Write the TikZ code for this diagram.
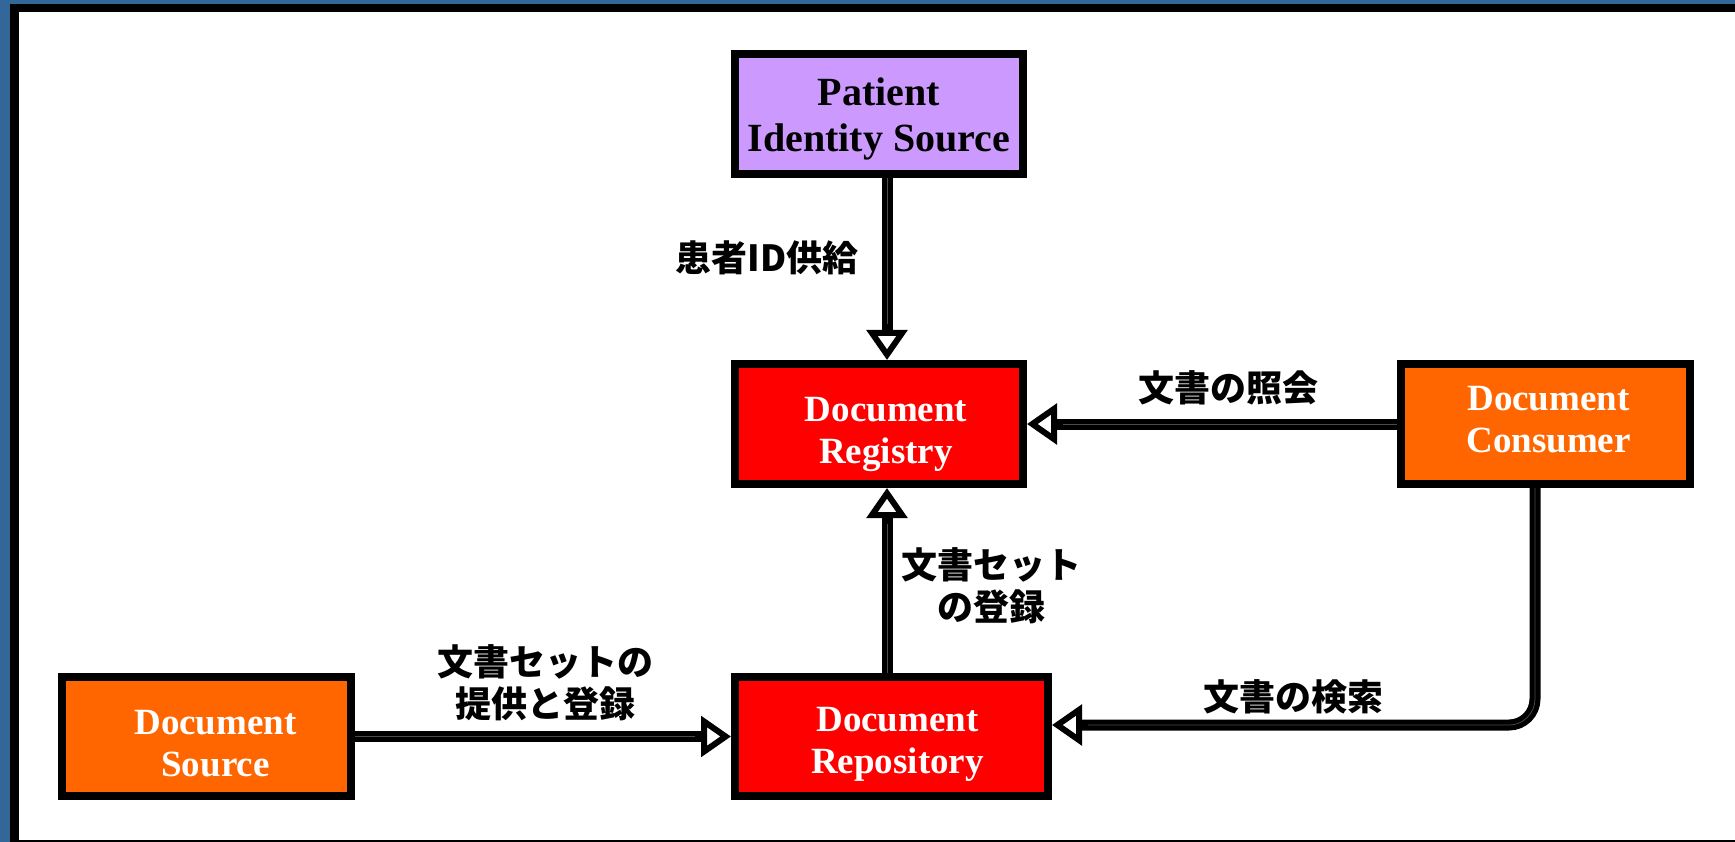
\documentclass[tikz,border=0pt]{standalone}
\usepackage{fontspec}
\setmainfont{Liberation Serif}
\newfontfamily\jpfont{Noto Sans CJK JP}
\usetikzlibrary{arrows.meta}

\definecolor{frameblue}{RGB}{51,102,153}
\definecolor{lavender}{RGB}{204,153,255}
\definecolor{orangebox}{RGB}{255,102,0}

\tikzset{
  actor/.style={draw=black, line width=8pt, outer sep=4pt, inner sep=0pt},
  actortext/.style={align=center, text=white, inner sep=0pt,
    font=\fontsize{37}{42}\selectfont\bfseries},
  conn/.style={line width=11pt,
    -{Triangle[fill=white, length=30pt, width=40pt, line width=6pt]},
    postaction={draw=black!70, line width=0.7pt, -, shorten >=36pt}},
  jlabel/.style={font=\jpfont\bfseries\fontsize{36}{42}\selectfont,
    align=center, inner sep=0pt}
}

\begin{document}
\begin{tikzpicture}[x=1pt, y=-1pt]
  % page frame
  \useasboundingbox (0,0) rectangle (1735,842);
  \fill[frameblue] (0,0) rectangle (1735,842);
  \fill[black] (10,4) rectangle (1735,842);
  \fill[white] (19,12) rectangle (1735,840);

  % actors
  \node[actor, fill=lavender, minimum width=288pt, minimum height=120pt,
        label={[actortext, text=black, font=\fontsize{40}{46}\selectfont\bfseries, yshift=-5pt]center:Patient\\Identity Source}]
        (pis) at (879,114) {};
  \node[actor, fill=red, minimum width=288pt, minimum height=120pt,
        label={[actortext, xshift=7pt, yshift=-10pt]center:Document\\Registry}]
        (reg) at (879,424) {};
  \node[actor, fill=orangebox, minimum width=289pt, minimum height=120pt,
        label={[actortext, xshift=3pt, yshift=4pt]center:Document\\Consumer}]
        (con) at (1545.5,424) {};
  \node[actor, fill=orangebox, minimum width=289pt, minimum height=119pt,
        label={[actortext, xshift=9pt, yshift=-7pt]center:Document\\Source}]
        (src) at (206.5,736.5) {};
  \node[actor, fill=red, minimum width=313pt, minimum height=119pt,
        label={[actortext, xshift=6pt, yshift=-8pt]center:Document\\Repository}]
        (rep) at (891.5,736.5) {};

  % transaction labels
  \node[jlabel] (l1) at (767,258) {患者ID供給};
  \node[jlabel] (l2) at (1228,388) {文書の照会};
  \node[jlabel] (l3) at (991,586) {文書セット\\の登録};
  \node[jlabel] (l4) at (545,683) {文書セットの\\提供と登録};
  \node[jlabel] (l5) at (1293,697) {文書の検索};

  % transactions
  \coordinate (ax) at (887,0);
  \coordinate (cx) at (1535,0);
  \coordinate (cy) at (0,725);
  \draw[conn] (pis.south -| ax) -- (reg.north -| ax);
  \draw[conn] (con.west) -- (reg.east);
  \draw[conn] (rep.north -| ax) -- (reg.south -| ax);
  \draw[conn] (src.east) -- (rep.west);
  \draw[conn, rounded corners=26pt] (con.south -| cx) |- (rep.east |- cy);
\end{tikzpicture}
\end{document}
